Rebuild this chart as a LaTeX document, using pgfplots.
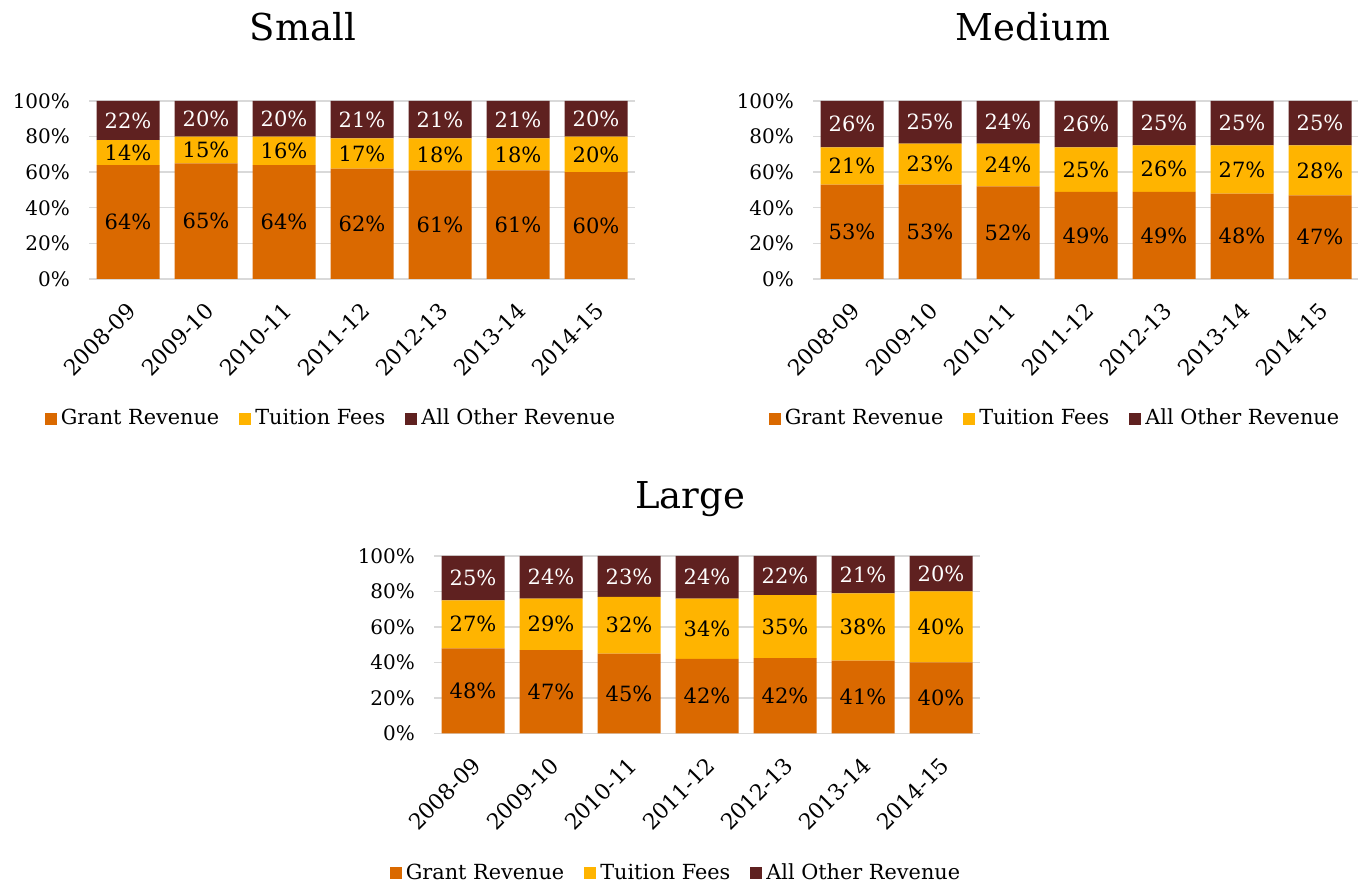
\documentclass[border=0pt]{standalone}
\usepackage{fontspec}
\setmainfont{DejaVu Serif}
\usepackage{pgfplots}
\usepackage{pgfplotstable}
\pgfplotsset{compat=1.18}

\definecolor{grant}{RGB}{218,105,0}
\definecolor{tuition}{RGB}{255,180,0}
\definecolor{other}{RGB}{95,33,32}
\definecolor{gridgray}{RGB}{217,217,217}

% shares of revenue (%), by year 2008-09 .. 2014-15
% grant/tuition/other: bar heights; gl/tl/ol: the rounded labels
\pgfplotstableread{
x grant tuition other gl tl ol
0 64 14 22 64 14 22
1 65 15 20 65 15 20
2 64 16 20 64 16 20
3 62 17 21 62 17 21
4 61 18 21 61 18 21
5 61 18 21 61 18 21
6 60 20 20 60 20 20
}\smalltab
\pgfplotstableread{
x grant tuition other gl tl ol
0 53 21 26 53 21 26
1 53 23 24 53 23 25
2 52 24 24 52 24 24
3 49 25 26 49 25 26
4 49 26 25 49 26 25
5 48 27 25 48 27 25
6 47 28 25 47 28 25
}\mediumtab
\pgfplotstableread{
x grant tuition other gl tl ol
0 48 27 25 48 27 25
1 47 29 24 47 29 24
2 45 32 23 45 32 23
3 42 34 24 42 34 24
4 42.5 35.5 22 42 35 22
5 41 38 21 41 38 21
6 40 40 20 40 40 20
}\largetab

\pgfplotsset{
  revenue/.style={
    scale only axis, width=273pt, height=89pt,
    ybar stacked, bar width=31.5pt,
    xmin=-0.5, xmax=6.5, ymin=0, ymax=100,
    axis x line*=bottom, axis y line*=left,
    x axis line style={draw=gridgray, line width=0.7pt, -},
    y axis line style={draw=none},
    tick style={draw=none},
    ymajorgrids, grid style={gridgray, line width=0.7pt},
    ytick={0,20,...,100},
    yticklabel={\pgfmathprintnumber{\tick}\%},
    yticklabel style={font=\fontsize{10}{12}\selectfont, xshift=-6pt},
    xtick={0,...,6},
    xticklabels={2008-09,2009-10,2010-11,2011-12,2012-13,2013-14,2014-15},
    xticklabel style={font=\fontsize{11}{13}\selectfont, yshift=-11.5pt, xshift=4.5pt, rotate=45, anchor=east},
    /pgf/number format/assume math mode=true,
    point meta=explicit,
    nodes near coords={\pgfmathprintnumber{\pgfplotspointmeta}\%},
    every node near coord/.append style={font=\fontsize{10.5}{12}\selectfont, anchor=center},
    legend columns=-1,
    legend style={draw=none, fill=none, at={(0.445,-0.784)}, anchor=center,
      font=\fontsize{10.4}{12}\selectfont,
      /tikz/every even column/.append style={column sep=8pt}},
    legend image code/.code={\fill[#1] (0pt,-3pt) rectangle (6pt,3pt);},
    title style={font=\fontsize{18.5}{22}\selectfont, anchor=base},
  },
}

\begin{document}
\begin{tikzpicture}
\useasboundingbox (0,0) rectangle (679pt,443pt);

\begin{axis}[revenue, at={(44.5pt,303.5pt)}, anchor=south west,
  title=Small, title style={at={(0.392,1.275)}}]
\addplot[fill=grant, draw=none] table[x=x, y=grant, meta=gl] {\smalltab};
\addplot[fill=tuition, draw=none] table[x=x, y=tuition, meta=tl] {\smalltab};
\addplot[fill=other, draw=none, every node near coord/.append style={text=white}] table[x=x, y=other, meta=ol] {\smalltab};
\legend{Grant Revenue, Tuition Fees, All Other Revenue}
\end{axis}

\begin{axis}[revenue, at={(406.5pt,303.5pt)}, anchor=south west,
  title=Medium, title style={at={(0.403,1.275)}}]
\addplot[fill=grant, draw=none] table[x=x, y=grant, meta=gl] {\mediumtab};
\addplot[fill=tuition, draw=none] table[x=x, y=tuition, meta=tl] {\mediumtab};
\addplot[fill=other, draw=none, every node near coord/.append style={text=white}] table[x=x, y=other, meta=ol] {\mediumtab};
\legend{Grant Revenue, Tuition Fees, All Other Revenue}
\end{axis}

\begin{axis}[revenue, at={(217pt,76.25pt)}, anchor=south west, height=88.75pt,
  title=Large, title style={at={(0.469,1.2)}},
  legend style={at={(0.445,-0.786)}}]
\addplot[fill=grant, draw=none] table[x=x, y=grant, meta=gl] {\largetab};
\addplot[fill=tuition, draw=none] table[x=x, y=tuition, meta=tl] {\largetab};
\addplot[fill=other, draw=none, every node near coord/.append style={text=white}] table[x=x, y=other, meta=ol] {\largetab};
\legend{Grant Revenue, Tuition Fees, All Other Revenue}
\end{axis}
\end{tikzpicture}
\end{document}
